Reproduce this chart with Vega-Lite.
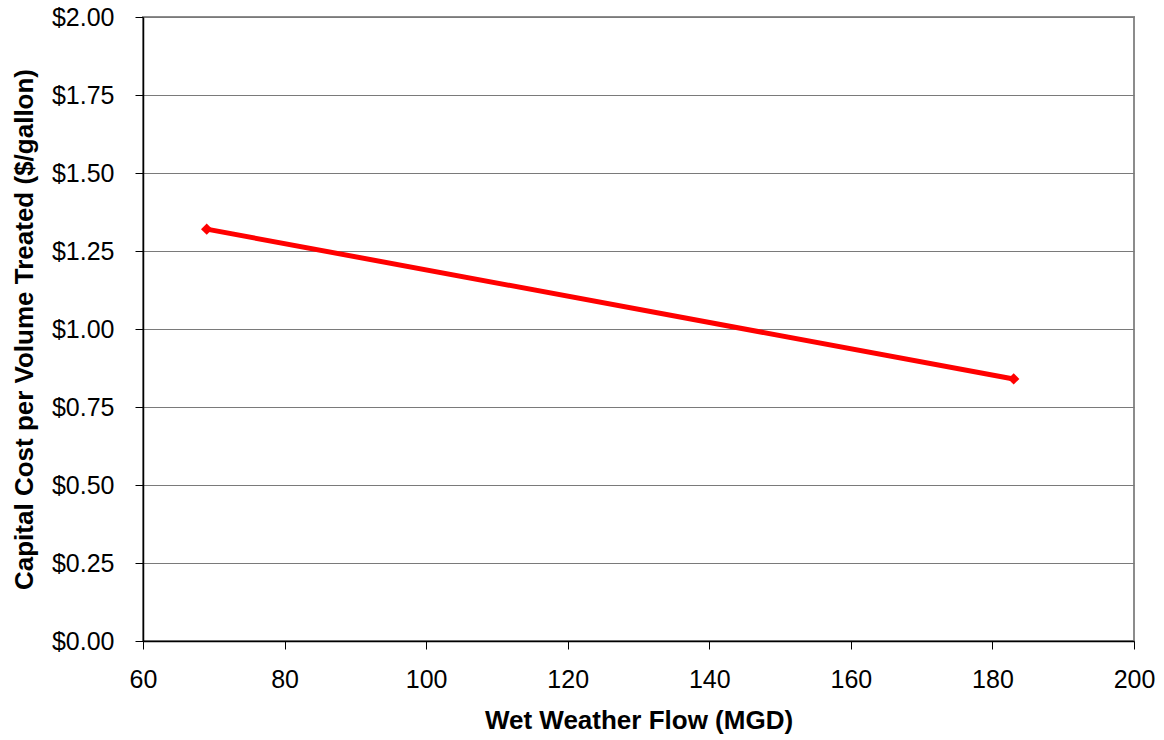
{
  "$schema": "https://vega.github.io/schema/vega-lite/v6.json",
  "autosize": {"type": "none"},
  "width": 991,
  "height": 624,
  "padding": {"left": 143, "top": 17, "right": 30, "bottom": 99},
  "background": "white",
  "config": {
    "font": "Liberation Sans",
    "view": {"stroke": "#8c8c8c", "strokeWidth": 2}
  },
  "data": {
    "values": [
      {"flow": 69, "cost": 1.32},
      {"flow": 183, "cost": 0.84}
    ]
  },
  "layer": [
    {
      "mark": {"type": "line", "color": "#ff0000", "strokeWidth": 5},
      "encoding": {
        "x": {
          "field": "flow", "type": "quantitative",
          "scale": {"domain": [60, 200], "nice": false, "zero": false},
          "axis": {
            "title": "Wet Weather Flow (MGD)",
            "titleFontSize": 26, "titleFontWeight": "bold", "titleColor": "black", "titlePadding": 15,
            "values": [60, 80, 100, 120, 140, 160, 180, 200],
            "labelFontSize": 25, "labelColor": "black", "labelPadding": 18,
            "labelFlush": false, "labelOverlap": false,
            "tickSize": 8, "tickColor": "black", "domainColor": "black", "domainWidth": 1.5,
            "grid": false
          }
        },
        "y": {
          "field": "cost", "type": "quantitative",
          "scale": {"domain": [0, 2], "nice": false},
          "axis": {
            "title": "Capital Cost per Volume Treated ($/gallon)",
            "titleFontSize": 26, "titleFontWeight": "bold", "titleColor": "black", "titlePadding": 14,
            "values": [0, 0.25, 0.5, 0.75, 1, 1.25, 1.5, 1.75, 2],
            "format": "$.2f",
            "labelFontSize": 25, "labelColor": "black", "labelPadding": 21,
            "labelFlush": false, "labelOverlap": false,
            "tickSize": 8, "tickColor": "black", "domainColor": "black", "domainWidth": 1.5,
            "grid": true, "gridColor": "#7a7a7a", "gridWidth": 1
          }
        }
      }
    },
    {
      "mark": {"type": "point", "shape": "diamond", "filled": true, "color": "#ff0000", "size": 130, "opacity": 1},
      "encoding": {
        "x": {"field": "flow", "type": "quantitative"},
        "y": {"field": "cost", "type": "quantitative"}
      }
    }
  ]
}
